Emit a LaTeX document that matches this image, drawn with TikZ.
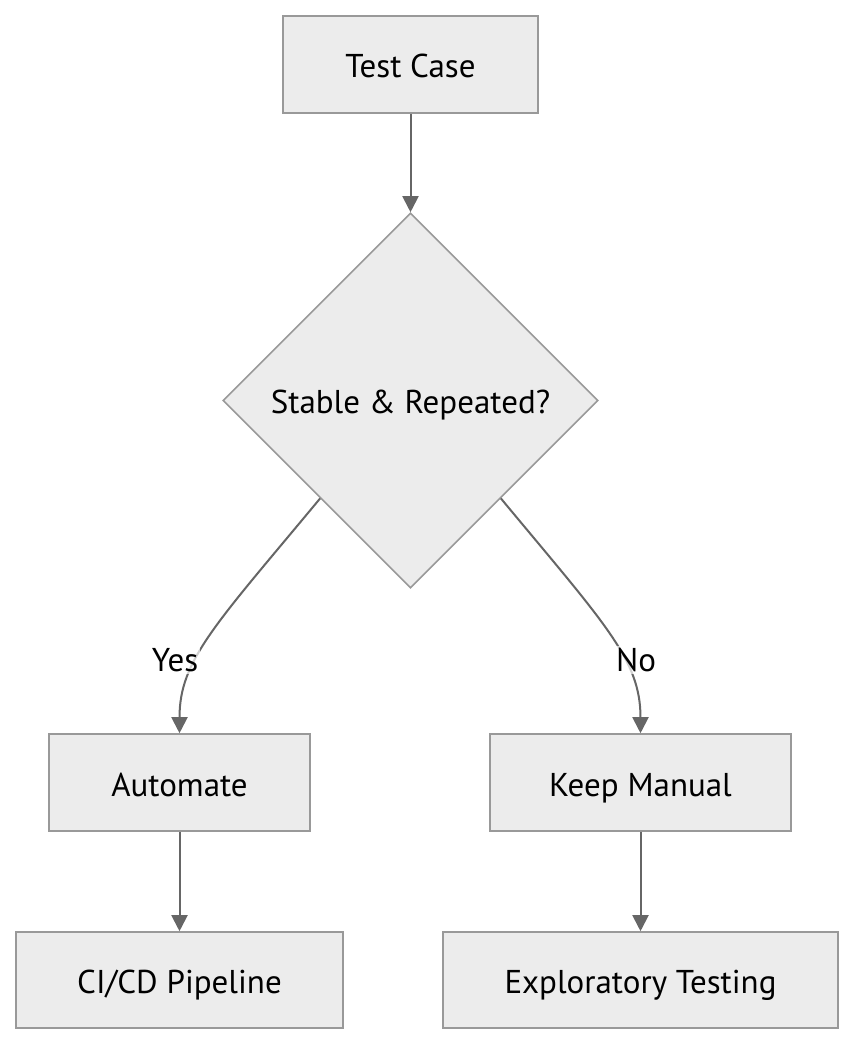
\documentclass[tikz,border=0pt]{standalone}
\usepackage{fontspec}
\setmainfont{PT Sans}
\usetikzlibrary{shapes.geometric,arrows.meta,calc}
\definecolor{nodefill}{HTML}{ECECEC}
\definecolor{nodeline}{HTML}{999999}
\definecolor{edgeline}{HTML}{666666}
\tikzset{
  txt/.style={font=\fontsize{33}{38}\selectfont},
  box/.style={txt, draw=nodeline, fill=nodefill, line width=1.6pt, rectangle, inner sep=0pt, text height=27pt, text depth=0pt},
  dec/.style={txt, draw=nodeline, fill=nodefill, line width=1.6pt, diamond, inner sep=0pt, text height=25pt, text depth=0pt, minimum width=375pt, minimum height=375pt},
  edge/.style={draw=edgeline, line width=2pt, -{Triangle[length=16pt,width=16pt]}},
  elabel/.style={txt, fill=white, fill opacity=0.7, text opacity=1, inner sep=2pt}
}
\begin{document}
\begin{tikzpicture}[x=1pt,y=-1pt]
\useasboundingbox (0,0) rectangle (854,1046);
\node[box, minimum width=255pt, minimum height=97pt] (tc) at (410.5,64.5) {Test Case};
\node[dec] (sr) at (410.5,400.5) {Stable \& Repeated?};
\node[box, minimum width=261pt, minimum height=97pt] (au) at (179.5,782.5) {Automate};
\node[box, minimum width=301pt, minimum height=97pt] (km) at (640.5,782.5) {Keep Manual};
\node[box, minimum width=327pt, minimum height=96pt] (ci) at (179.5,980) {CI/CD Pipeline};
\node[box, minimum width=395pt, minimum height=96pt] (ex) at (640.5,980) {Exploratory Testing};
\draw[edge] (tc.south) -- (sr.north);
\draw[edge] ($(sr.south west)!0.04!(sr.south)$) .. controls (215,625) and (179.5,660) .. (au.north);
\draw[edge] ($(sr.south east)!0.04!(sr.south)$) .. controls (606,625) and (640.5,660) .. (km.north);
\draw[edge] (au.south) -- (ci.north);
\draw[edge] (km.south) -- (ex.north);
\node[elabel] (ly) at (175,660) {Yes};
\node[elabel] (ln) at (636,660) {No};
\end{tikzpicture}
\end{document}
